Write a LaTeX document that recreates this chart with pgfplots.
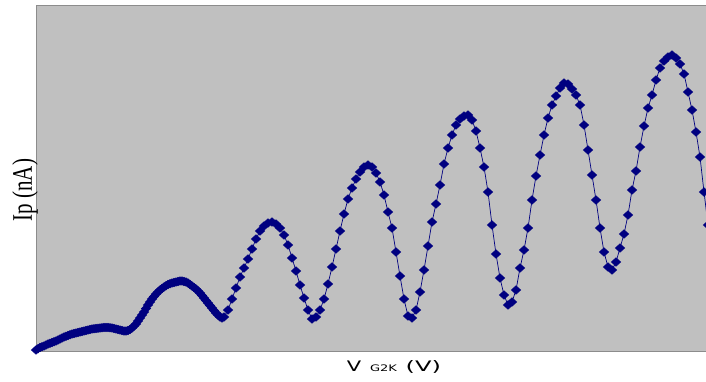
\documentclass[border=0pt]{standalone}
\usepackage{pgfplots}
\pgfplotsset{compat=1.18}
\usepackage{fontspec}
\setmainfont{Liberation Serif}
\newfontfamily\labelsans{DejaVu Sans}
\usepackage{graphicx}
\definecolor{bgc}{RGB}{192,192,192}
\definecolor{navyc}{RGB}{0,0,128}
\definecolor{framec}{RGB}{140,140,140}
\begin{document}
\begin{tikzpicture}[x=1pt,y=1pt]
\useasboundingbox (0,0) rectangle (706,381);
\clip (0,0) rectangle (706,381);
\begin{axis}[
  at={(36pt,30pt)}, anchor=south west,
  scale only axis, width=716pt, height=346pt,
  xmin=36, xmax=752, ymin=0, ymax=346,
  xtick=\empty, ytick=\empty,
  axis background/.style={fill=bgc},
  axis line style={draw=framec, line width=0.8pt},
  clip=false,
  xlabel={\labelsans\scalebox{1.45}[1]{\fontsize{14.5}{15}\selectfont V\hspace{6pt}{\fontsize{9}{9}\selectfont G2K}\hspace{6pt}\scalebox{1.15}[1]{(V)}}},
  xlabel style={at={(axis description cs:0.5,0)}, anchor=base, yshift=-20pt},
  ylabel={\scalebox{1}[1.35]{\fontsize{21}{22}\selectfont Ip (nA)}},
  ylabel style={at={(axis description cs:-0.0154,0.465)}, anchor=center},
]
\addplot[color=navyc, line width=0.7pt, mark=diamond*, mark size=4.3pt,
  mark options={xscale=1.45, draw=navyc, fill=navyc, line width=0.5pt}] coordinates {
(36,1) (38,2.3) (40,3.5) (42,4.3) (44,5) (46,6) (48,7) (50,7.8) (52,8.5) (54,9.3)
(56,10) (58,11) (60,12) (62,13) (64,14) (66,14.8) (68,15.5) (70,16.3) (72,17) (74,17.5)
(76,18) (78,18.5) (80,19) (82,19.5) (84,20) (86,20.5) (88,21) (90,21.5) (92,22) (94,22.3)
(96,22.5) (98,22.8) (100,23) (102,23.3) (104,23.5) (106,23.5) (108,23.5) (110,23.3) (112,23) (114,22.5)
(116,22) (118,21.5) (120,21) (122,20.5) (124,20) (126,20) (128,20.5) (130,21.5) (132,23) (134,25)
(136,27) (138,30) (140,33) (142,36) (144,39) (146,42.5) (148,46) (150,49) (152,52) (154,54.5)
(156,57) (158,59) (160,61) (162,62.5) (164,64) (166,65.3) (168,66.5) (170,67.3) (172,68) (174,68.5)
(176,69) (178,69.5) (180,70) (182,70) (184,69.5) (186,69) (188,68) (190,66.5) (192,65) (194,63.5)
(196,62) (198,60) (200,58) (202,55.5) (204,53) (206,50.5) (208,48) (210,45.5) (212,43) (214,40.5)
(216,38) (218,36) (220,34) (222,33) (224,34) (228,41) (232,52)
(236,63) (240,74) (244,83) (248,92) (252,102) (256,112) (260,120) (264,125) (268,128) (272,129)
(276,127) (280,123) (284,116) (288,106) (292,93) (296,80) (300,66) (304,53) (308,41) (312,32)
(316,34) (320,41) (324,52) (328,67) (332,84) (336,102) (340,120) (344,137) (348,152) (352,163)
(356,172) (360,179) (364,184) (368,186) (372,184) (376,178) (380,169) (384,156) (388,139) (392,123)
(396,99) (400,75) (404,52) (408,35) (412,33) (416,41) (420,59) (424,81) (428,105) (432,129)
(436,147) (440,166) (444,187) (448,203) (452,216) (456,226) (460,232) (464,235) (468,236) (472,231)
(476,220) (480,203) (484,184) (488,159) (492,126) (496,97) (500,73) (504,56) (508,46) (512,49)
(516,61) (520,83) (524,101) (528,123) (532,151) (536,175) (540,196) (544,216) (548,233) (552,246)
(556,255) (560,263) (564,268) (568,267) (572,262) (576,256) (580,246) (584,226) (588,201) (592,176)
(596,151) (600,123) (604,99) (608,84) (612,81) (616,89) (620,103) (624,117) (628,136) (632,161)
(636,180) (640,204) (644,225) (648,243) (652,256) (656,271) (660,283) (664,290) (668,294) (672,296)
(676,293) (680,287) (684,277) (688,259) (692,241) (696,219) (700,194) (704,159) (708,126)
};
\end{axis}
\end{tikzpicture}
\end{document}
